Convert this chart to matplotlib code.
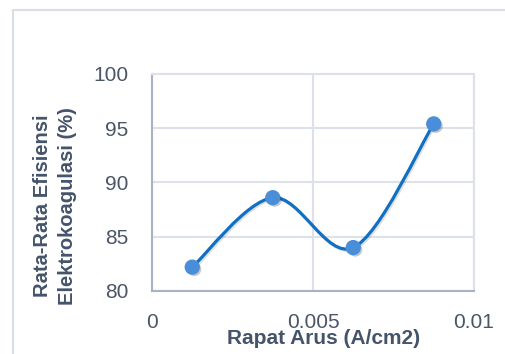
import numpy as np
import matplotlib
matplotlib.use('Agg')
import matplotlib.pyplot as plt
import matplotlib.patheffects as pe
from matplotlib.path import Path
from matplotlib.patches import PathPatch, Rectangle

# data
current_density = [0.00125, 0.00375, 0.00625, 0.00875]
efficiency = [82.2, 88.6, 84.0, 95.4]
x_ticks = [0, 0.005, 0.01]
x_tick_labels = ['0', '0.005', '0.01']
y_ticks = [80, 85, 90, 95, 100]

plt.rcParams['font.family'] = ['Liberation Sans', 'DejaVu Sans']

text_color = '#4a5566'
label_color = '#44546a'
grid_color = '#dde1ea'
line_color = '#1170c4'
marker_color = '#4a8dd8'


def smooth_path(xs, ys):
    # excel-like smoothed line: catmull-rom segments as cubic beziers
    pts = np.column_stack([xs, ys])
    n = len(pts)
    verts = [pts[0]]
    codes = [Path.MOVETO]
    for i in range(n - 1):
        p_prev = pts[max(i - 1, 0)]
        p0 = pts[i]
        p1 = pts[i + 1]
        p_next = pts[min(i + 2, n - 1)]
        c1 = p0 + (p1 - p_prev) / 6.0
        c2 = p1 - (p_next - p0) / 6.0
        verts += [c1, c2, p1]
        codes += [Path.CURVE4] * 3
    return Path(verts, codes)


fig = plt.figure(figsize=(5.06, 3.54), dpi=100)

# outer chart frame (only top/left visible in the crop)
fig.patches.append(Rectangle((13 / 506, -0.2), 1.2, 1.2 - 10 / 354,
                             transform=fig.transFigure, fill=False,
                             edgecolor='#d9dde5', linewidth=1.5))

ax = fig.add_axes([152 / 506, 63 / 354, 322 / 506, 217 / 354])

curve = PathPatch(smooth_path(current_density, efficiency), facecolor='none',
                  edgecolor=line_color, linewidth=2.3, zorder=3)
curve.set_path_effects([pe.SimpleLineShadow(offset=(1, -1), shadow_color='k', alpha=0.12),
                        pe.Normal()])
ax.add_patch(curve)

ax.plot(current_density, efficiency, linestyle='none', marker='o', markersize=10,
        markerfacecolor=marker_color, markeredgecolor=marker_color, zorder=4,
        path_effects=[pe.SimplePatchShadow(offset=(1.5, -1.5), shadow_rgbFace='k', alpha=0.22),
                      pe.Normal()])

ax.set_xlim(0, 0.01)
ax.set_ylim(80, 100)
ax.set_xticks(x_ticks)
ax.set_xticklabels(x_tick_labels)
ax.set_yticks(y_ticks)
ax.grid(True, color=grid_color, linewidth=1.5)
ax.set_axisbelow(True)

ax.tick_params(axis='both', length=0, labelsize=15, labelcolor=text_color)
ax.tick_params(axis='x', pad=16)
ax.tick_params(axis='y', pad=17)

for side in ['left', 'bottom']:
    ax.spines[side].set_color('#a7b2c6')
    ax.spines[side].set_linewidth(1.5)
for side in ['top', 'right']:
    ax.spines[side].set_color(grid_color)
    ax.spines[side].set_linewidth(1.5)

ax.set_xlabel('Rapat Arus (A/cm2)', fontsize=15, fontweight='bold', color=label_color,
              va='center')
ax.xaxis.set_label_coords(0.534, -0.217)
ax.set_ylabel('Rata-Rata Efisiensi\nElektrokoagulasi (%)', fontsize=14.5, fontweight='bold',
              color=label_color, va='center', linespacing=1.45)
ax.yaxis.set_label_coords(-0.301, 0.392)

fig.savefig('out.png', dpi=100)
